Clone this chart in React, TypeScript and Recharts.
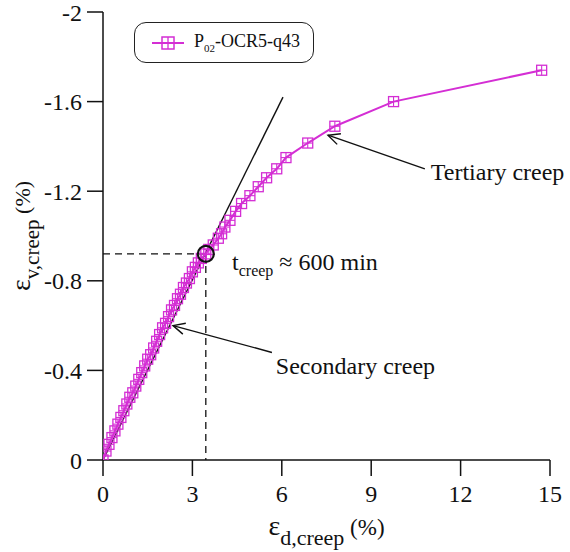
import React from "react";
import { ScatterChart, Scatter, XAxis, YAxis, ReferenceLine, ReferenceDot } from "recharts";

// ---- data ----
const epsD = [
  0, 0.1, 0.2, 0.3, 0.4, 0.5, 0.6, 0.7, 0.8, 0.9, 1.0, 1.1, 1.2, 1.3, 1.4, 1.5, 1.6, 1.7, 1.8, 1.9,
  2.0, 2.1, 2.2, 2.3, 2.4, 2.5, 2.6, 2.7, 2.8, 2.9, 3.0, 3.1, 3.2, 3.3, 3.45, 3.55, 3.7, 3.87, 3.98,
  4.09, 4.26, 4.45, 4.65, 4.93, 5.21, 5.49, 5.83, 6.14, 6.87, 7.78, 9.75, 14.72,
];
const epsV = [
  0, -0.04, -0.07, -0.1, -0.13, -0.16, -0.19, -0.22, -0.25, -0.28, -0.3, -0.33, -0.36, -0.39, -0.42,
  -0.45, -0.47, -0.5, -0.53, -0.56, -0.59, -0.61, -0.64, -0.67, -0.69, -0.72, -0.74, -0.77, -0.79,
  -0.81, -0.84, -0.86, -0.88, -0.9, -0.92, -0.94, -0.96, -0.99, -1.01, -1.04, -1.07, -1.11, -1.145,
  -1.18, -1.22, -1.26, -1.3, -1.35, -1.415, -1.49, -1.6, -1.74,
];
const xTicks = [0, 3, 6, 9, 12, 15];
const yTicks = [-2, -1.6, -1.2, -0.8, -0.4, 0];
const seriesName = "P02-OCR5-q43";
const tangent = [{ x: 0, y: 0 }, { x: 6.04, y: -1.62 }];
const creepPt = { x: 3.45, y: -0.92 };
const secondaryArrow = [{ x: 2.35, y: -0.6 }, { x: 5.67, y: -0.48 }];
const tertiaryArrow = [{ x: 7.55, y: -1.45 }, { x: 10.8, y: -1.3 }];
const secondaryText = { x: 5.8, y: -0.42, text: "Secondary creep" };
const tertiaryText = { x: 11.0, y: -1.285, text: "Tertiary creep" };
const creepTimeText = { x: 4.33, y: -0.884 };

const data = epsD.map((d, i) => ({ x: d, y: epsV[i] }));

const MAG = "#D42ED4";
const FONT = "Liberation Serif, Times New Roman, Times, serif";

const SquareCross = (props: any) => {
  const { cx, cy } = props;
  if (cx == null || cy == null) return null;
  const s = 5;
  return (
    <g>
      <rect x={cx - s} y={cy - s} width={2 * s} height={2 * s} fill="none" stroke={MAG} strokeWidth={1.3} />
      <line x1={cx - s} y1={cy} x2={cx + s} y2={cy} stroke={MAG} strokeWidth={1.1} />
      <line x1={cx} y1={cy - s} x2={cx} y2={cy + s} stroke={MAG} strokeWidth={1.1} />
    </g>
  );
};

const ArrowShape = (p: any) => {
  const { x1, y1, x2, y2 } = p;
  const ang = Math.atan2(y2 - y1, x2 - x1);
  const L = 13;
  const a = 0.45;
  const hx1 = x1 + L * Math.cos(ang + a);
  const hy1 = y1 + L * Math.sin(ang + a);
  const hx2 = x1 + L * Math.cos(ang - a);
  const hy2 = y1 + L * Math.sin(ang - a);
  return (
    <g stroke="#111" strokeWidth={1.4} fill="none">
      <line x1={x1} y1={y1} x2={x2} y2={y2} />
      <polyline points={`${hx1},${hy1} ${x1},${y1} ${hx2},${hy2}`} />
    </g>
  );
};

const TextShape = (text: string) => (p: any) => (
  <text x={p.cx} y={p.cy} dy={8} fontFamily={FONT} fontSize={24} fill="#111">
    {text}
  </text>
);

const CreepTimeShape = (p: any) => (
  <text x={p.cx} y={p.cy} dy={8} fontFamily={FONT} fontSize={24} fill="#111">
    <tspan>t</tspan>
    <tspan dy={6} fontSize={16}>creep</tspan>
    <tspan dy={-6}> ≈ 600 min</tspan>
  </text>
);

const LegendBox = () => (
  <div
    style={{
      position: "absolute",
      left: 134,
      top: 22,
      width: 180,
      height: 41,
      border: "1.5px solid #222",
      borderRadius: 12,
      boxSizing: "border-box",
      display: "flex",
      alignItems: "center",
      background: "#fff",
    }}
  >
    <svg width={32} height={16} style={{ marginLeft: 17 }}>
      <line x1={0} y1={8} x2={32} y2={8} stroke={MAG} strokeWidth={2} />
      <rect x={10} y={2} width={12} height={12} fill="none" stroke={MAG} strokeWidth={1.5} />
      <line x1={16} y1={2} x2={16} y2={14} stroke={MAG} strokeWidth={1.3} />
    </svg>
    <span style={{ fontFamily: FONT, fontSize: 18, color: "#111", marginLeft: 10 }}>
      P<sub style={{ fontSize: 11 }}>02</sub>-OCR5-q43
    </span>
  </div>
);

const XLabel = (props: any) => {
  const vb = props.viewBox || {};
  const cx = vb.x + vb.width / 2;
  return (
    <text x={cx} y={535} textAnchor="middle" fontFamily={FONT} fill="#111">
      <tspan fontSize={28}>ε</tspan>
      <tspan dy={10} fontSize={22}>d,creep</tspan>
      <tspan dy={-10} fontSize={23}> (%)</tspan>
    </text>
  );
};

const YLabel = () => {
  const cx = 30;
  const cy = 236;
  return (
    <text x={cx} y={cy} textAnchor="middle" fontFamily={FONT} fill="#111" transform={`rotate(-90, ${cx}, ${cy})`}>
      <tspan fontSize={28}>ε</tspan>
      <tspan dy={9} fontSize={21}>v,creep</tspan>
      <tspan dy={-9} fontSize={22}> (%)</tspan>
    </text>
  );
};

const fmtY = (v: number) => (v === 0 ? "0" : v === -2 ? "-2" : v.toFixed(1));

export default function App() {
  return (
    <div style={{ position: "absolute", left: 0, top: 0, width: 570, height: 552 }}>
      <ScatterChart width={570} height={552} margin={{ top: 12, right: 20, left: 0, bottom: 0 }}>
        <XAxis
          type="number"
          dataKey="x"
          domain={[0, 15]}
          ticks={xTicks}
          interval={0}
          tickSize={16}
          tickMargin={9}
          height={92}
          axisLine={{ stroke: "#111", strokeWidth: 1.5 }}
          tickLine={{ stroke: "#111", strokeWidth: 1.5 }}
          tick={{ fontFamily: FONT, fontSize: 24, fill: "#111" }}
          label={<XLabel />}
          allowDataOverflow
        />
        <YAxis
          type="number"
          dataKey="y"
          domain={[-2, 0]}
          reversed
          ticks={yTicks}
          interval={0}
          tickSize={16}
          tickMargin={5}
          width={103}
          tickFormatter={fmtY}
          axisLine={{ stroke: "#111", strokeWidth: 1.5 }}
          tickLine={{ stroke: "#111", strokeWidth: 1.5 }}
          tick={{ fontFamily: FONT, fontSize: 24, fill: "#111" }}
          label={<YLabel />}
          allowDataOverflow
        />
        <ReferenceLine
          segment={[{ x: 0, y: creepPt.y }, { x: creepPt.x, y: creepPt.y }]}
          stroke="#111"
          strokeWidth={1.3}
          strokeDasharray="7 5"
        />
        <ReferenceLine
          segment={[{ x: creepPt.x, y: creepPt.y }, { x: creepPt.x, y: 0 }]}
          stroke="#111"
          strokeWidth={1.3}
          strokeDasharray="7 5"
        />
        <Scatter
          name={seriesName}
          data={data}
          line={{ stroke: MAG, strokeWidth: 2 }}
          lineType="joint"
          shape={SquareCross}
          isAnimationActive={false}
        />
        <ReferenceLine segment={tangent} stroke="#111" strokeWidth={1.4} />
        <ReferenceDot x={creepPt.x} y={creepPt.y} r={8} fill="none" stroke="#111" strokeWidth={2.2} />
        <ReferenceLine segment={secondaryArrow} shape={ArrowShape} />
        <ReferenceLine segment={tertiaryArrow} shape={ArrowShape} />
        <ReferenceDot x={secondaryText.x} y={secondaryText.y} r={0} shape={TextShape(secondaryText.text)} />
        <ReferenceDot x={tertiaryText.x} y={tertiaryText.y} r={0} shape={TextShape(tertiaryText.text)} />
        <ReferenceDot x={creepTimeText.x} y={creepTimeText.y} r={0} shape={CreepTimeShape} />
      </ScatterChart>
      <LegendBox />
    </div>
  );
}
